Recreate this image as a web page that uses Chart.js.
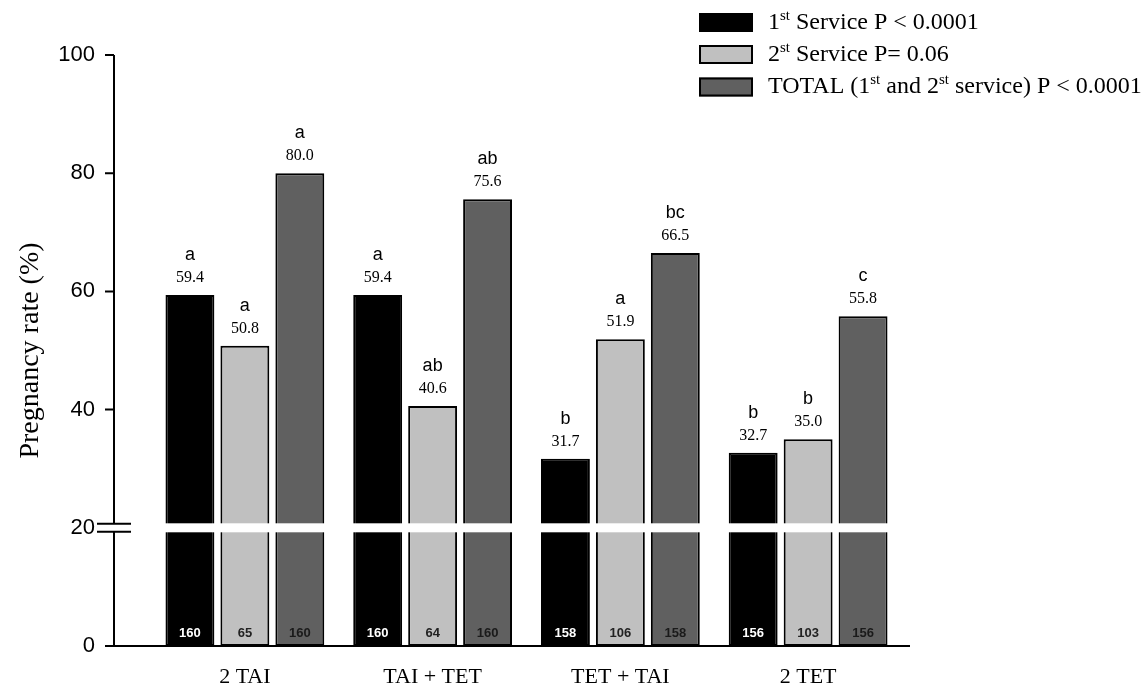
<!DOCTYPE html>
<html><head><meta charset="utf-8">
<script src="https://cdn.jsdelivr.net/npm/chart.js@4"></script>
<style>html,body{margin:0;padding:0;background:#fff;} #wrap{width:1147px;height:687px;position:relative;}</style>
</head><body><div id="wrap"><canvas id="c" width="1147" height="687"></canvas></div>
<script>
// ---- data ----
const categories = ['2 TAI', 'TAI + TET', 'TET + TAI', '2 TET'];
const seriesNames = ['1^{st} Service P < 0.0001', '2^{st} Service P= 0.06', 'TOTAL (1^{st} and 2^{st} service) P < 0.0001'];
const firstService = [59.4, 59.4, 31.7, 32.7];
const secondService = [50.8, 40.6, 51.9, 35.0];
const totalService = [80.0, 75.6, 66.5, 55.8];
const lettersFirst = ['a', 'a', 'b', 'b'];
const lettersSecond = ['a', 'ab', 'a', 'b'];
const lettersTotal = ['a', 'ab', 'bc', 'c'];
const nFirst = [160, 160, 158, 156];
const nSecond = [65, 64, 106, 103];
const nTotal = [160, 160, 158, 156];
const yTicks = [0, 20, 40, 60, 80, 100];
const breakValue = 20;
const yTitle = 'Pregnancy rate (%)';

// ---- styles ----
const SERIF = '"Liberation Serif", "Times New Roman", serif';
const SANS = '"Liberation Sans", Arial, sans-serif';
const colors = ['#000000', '#c0c0c0', '#606060'];
const nColors = ['#ffffff', '#222222', '#1a1a1a'];
const letters = [lettersFirst, lettersSecond, lettersTotal];
const counts = [nFirst, nSecond, nTotal];

function drawRich(ctx, text, x, y, size) {
  const parts = text.split(/\^\{([^}]*)\}/);
  let cx = x;
  ctx.textBaseline = 'middle';
  ctx.textAlign = 'left';
  parts.forEach((p, i) => {
    if (!p) return;
    if (i % 2 === 1) {
      ctx.font = Math.round(size * 0.62) + 'px ' + SERIF;
      ctx.fillText(p, cx, y - size * 0.28);
    } else {
      ctx.font = size + 'px ' + SERIF;
      ctx.fillText(p, cx, y);
    }
    cx += ctx.measureText(p).width;
  });
}

const decor = {
  id: 'decor',
  afterDatasetsDraw(chart) {
    const ctx = chart.ctx;
    const area = chart.chartArea;
    const ys = chart.scales.y;
    const yb = ys.getPixelForValue(breakValue);
    ctx.save();
    // break band
    ctx.fillStyle = '#ffffff';
    ctx.fillRect(area.left, yb - 4.5, area.right - area.left, 9);
    // labels
    chart.data.datasets.forEach((ds, di) => {
      const meta = chart.getDatasetMeta(di);
      meta.data.forEach((el, i) => {
        const x = el.x, top = el.y, base = el.base;
        ctx.fillStyle = '#000';
        ctx.textAlign = 'center';
        ctx.textBaseline = 'middle';
        ctx.font = '16px ' + SERIF;
        ctx.fillText(ds.data[i].toFixed(1), x, top - 17);
        ctx.font = '18px ' + SANS;
        ctx.fillText(letters[di][i], x, top - 40);
        ctx.font = 'bold 13px ' + SANS;
        ctx.fillStyle = nColors[di];
        ctx.fillText(String(counts[di][i]), x, base - 13);
      });
    });
    ctx.restore();
  },
  afterDraw(chart) {
    const ctx = chart.ctx;
    const area = chart.chartArea;
    const ys = chart.scales.y;
    const ax = area.left - 37;
    const y0 = ys.getPixelForValue(0);
    const yTop = ys.getPixelForValue(100);
    const yb = ys.getPixelForValue(breakValue);
    ctx.save();
    ctx.strokeStyle = '#000';
    ctx.lineWidth = 2;
    ctx.beginPath();
    // y axis with break
    ctx.moveTo(ax, yTop); ctx.lineTo(ax, yb - 4);
    ctx.moveTo(ax, yb + 4); ctx.lineTo(ax, y0);
    // x axis
    ctx.moveTo(ax - 9, y0); ctx.lineTo(area.right + 8, y0);
    // ticks
    yTicks.forEach(v => {
      if (v === 0 || v === breakValue) return;
      const py = ys.getPixelForValue(v);
      ctx.moveTo(ax - 9, py); ctx.lineTo(ax, py);
    });
    // break marks
    ctx.moveTo(ax - 17, yb - 4); ctx.lineTo(ax + 17, yb - 4);
    ctx.moveTo(ax - 17, yb + 4); ctx.lineTo(ax + 17, yb + 4);
    ctx.stroke();
    // legend
    const lx = 699, rows = [22.5, 54.5, 87];
    seriesNames.forEach((name, i) => {
      ctx.fillStyle = colors[i];
      ctx.fillRect(lx, rows[i] - 9.5, 54, 19);
      ctx.lineWidth = 2;
      ctx.strokeStyle = '#000';
      ctx.strokeRect(lx + 1, rows[i] - 8.5, 52, 17);
      ctx.fillStyle = '#000';
      drawRich(ctx, name, 768, rows[i], 24);
    });
    ctx.restore();
  }
};

const seriesData = [firstService, secondService, totalService];
new Chart(document.getElementById('c'), {
  type: 'bar',
  data: {
    labels: categories,
    datasets: seriesData.map((d, i) => ({
      label: seriesNames[i].replace(/\^\{([^}]*)\}/g, '$1'),
      data: d,
      backgroundColor: colors[i],
      borderColor: '#000',
      borderWidth: 2,
      borderSkipped: false,
      categoryPercentage: 0.878,
      barPercentage: 0.89
    }))
  },
  options: {
    responsive: false,
    animation: false,
    devicePixelRatio: 1,
    layout: { padding: { top: 55, right: 245, left: 0, bottom: 0 } },
    plugins: { legend: { display: false }, tooltip: { enabled: false } },
    scales: {
      x: {
        grid: { display: false, drawTicks: false },
        border: { display: false },
        ticks: { font: { family: SERIF, size: 22 }, color: '#000', padding: 18 },
        afterFit: s => { s.height = 41; s.paddingLeft = 0; s.paddingRight = 0; }
      },
      y: {
        min: 0, max: 100,
        grid: { display: false, drawTicks: false },
        border: { display: false },
        ticks: { stepSize: 20, font: { family: SANS, size: 22 }, color: '#000', padding: 56 },
        title: { display: true, text: yTitle, font: { family: SERIF, size: 28 }, color: '#000', padding: { top: 14, bottom: 0 } },
        afterFit: s => { s.width = 151; s.paddingTop = 0; s.paddingBottom = 0; }
      }
    }
  },
  plugins: [decor]
});
</script>
</body></html>
